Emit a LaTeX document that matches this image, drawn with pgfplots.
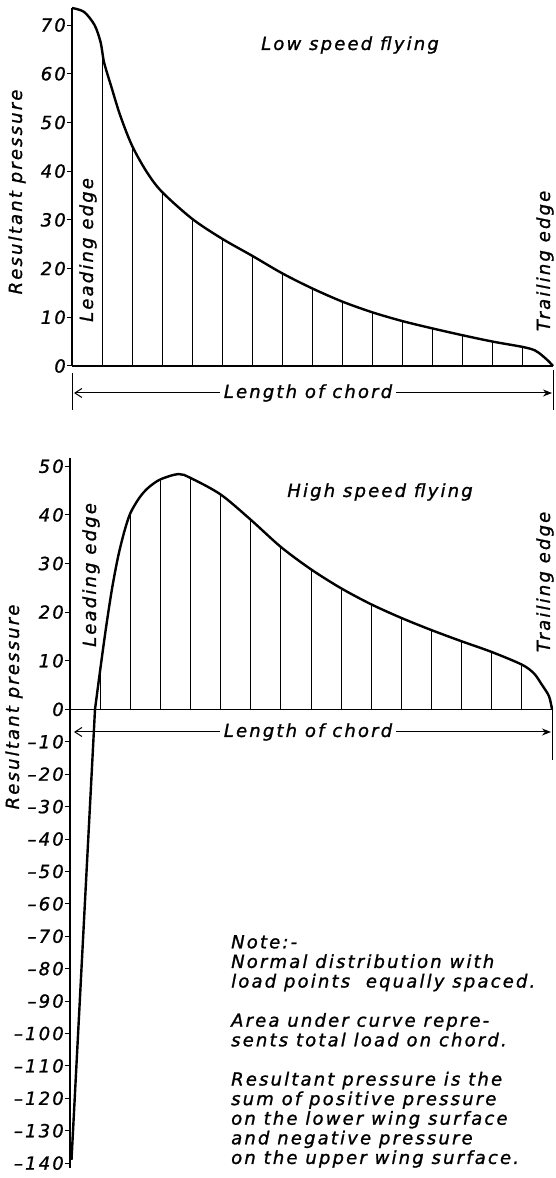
\documentclass[border=0pt]{standalone}
\usepackage{fontspec}
\setmainfont{DejaVu Sans}[LetterSpace=12, FakeBold=1.2]
\usepackage{pgfplots}
\pgfplotsset{compat=1.18}
\usetikzlibrary{arrows.meta}
\newcommand\lf{\fontsize{18}{19.6}\selectfont\itshape}
\begin{document}
\begin{tikzpicture}[x=1pt,y=1pt]
\path[use as bounding box] (0,0) rectangle (556,1178);

% ---------------- Low speed flying ----------------
\begin{axis}[
  at={(72pt,812pt)}, anchor=south west,
  scale only axis, width=481pt, height=358pt,
  xmin=0, xmax=16, ymin=0, ymax=73.5,
  axis y line=left, axis x line=none,
  axis line style={-, line width=1.3pt},
  ytick={0,10,20,30,40,50,60,70},
  yticklabels={0,10,20,30,40,50,60,70},
  yticklabel style={font=\lf, inner sep=1pt},
  tick align=outside, major tick length=5pt,
  tick style={line width=1pt, black},
  clip=false,
]
\addplot[black, line width=1.4pt] coordinates {(0,0) (16,0)};
\addplot[ycomb, black, line width=1pt] coordinates {
 (1,63.5) (2,45.2) (3,35.7) (4,30.2) (5,26.1) (6,22.6) (7,19.0) (8,15.9)
 (9,13.2) (10,11.0) (11,9.2) (12,7.7) (13,6.3) (14,5.0) (15,3.9)};
\addplot[smooth, black, line width=2.4pt] coordinates {
 (0,73.5) (0.4,72.7) (0.75,70) (0.95,66.5) (1.05,62.8) (1.15,60.5) (1.3,57.5)
 (1.6,51.5) (2,45.2) (2.5,39.7) (3,35.7) (4,30.2) (5,26.1) (6,22.6) (7,19.0)
 (8,15.9) (9,13.2) (10,11.0) (11,9.2) (12,7.7) (13,6.3) (14,5.0) (15,3.9)
 (15.4,3.2) (15.65,2.1) (15.85,1.0) (16,0)};
\end{axis}

% ---------------- High speed flying ----------------
\begin{axis}[
  at={(70pt,10pt)}, anchor=south west,
  scale only axis, width=482pt, height=709.5pt,
  xmin=0, xmax=16, ymin=-141.5, ymax=51.6,
  y coord trafo/.code={\pgfmathparse{max(#1,0)+0.666667*min(#1,0)}},
  y coord inv trafo/.code={\pgfmathparse{max(#1,0)+1.5*min(#1,0)}},
  axis y line=left, axis x line=none,
  axis line style={-, line width=1.3pt},
  ytick={-140,-130,-120,-110,-100,-90,-80,-70,-60,-50,-40,-30,-20,-10,0,10,20,30,40,50},
  yticklabels={–140,–130,–120,–110,–100,–90,–80,–70,–60,–50,–40,–30,–20,–10,0,10,20,30,40,50},
  yticklabel style={font=\lf, inner sep=1pt},
  tick align=outside, major tick length=5pt,
  tick style={line width=1pt, black},
  clip=false,
]
\addplot[black, line width=1.4pt] coordinates {(0,0) (16,0)};
\addplot[ycomb, black, line width=1pt] coordinates {
 (1,8) (2,40.3) (3,47.3) (4,47.6) (5,44.2) (6,39) (7,33.4) (8,28.8)
 (9,24.9) (10,21.6) (11,18.8) (12,16.3) (13,14.0) (14,11.8) (15,9.2)};
\addplot[black, line width=2.4pt] coordinates {(0.05,-139) (0.83,0)};
\addplot[smooth, black, line width=2.4pt] coordinates {
 (0.83,0) (1.0,8) (1.2,17) (1.4,25) (1.6,31.5) (1.8,36.5) (2,40.3) (2.3,43.5)
 (2.6,45.6) (3,47.3) (3.6,48.4) (4,47.6) (5,44.2) (6,39) (7,33.4) (8,28.8)
 (9,24.9) (10,21.6) (11,18.8) (12,16.3) (13,14.0) (14,11.8) (15,9.2)
 (15.4,7.4) (15.65,5.2) (15.9,2.7) (16,0)};
\end{axis}

% ---------------- annotations ----------------
\tikzset{lab/.style={font=\lf, inner sep=0pt}}
\node[lab] at (350,1133) {Low speed flying};
\node[lab, rotate=90] at (17,986) {Resultant pressure};
\node[lab, rotate=90] at (88,928) {Leading edge};
\node[lab, rotate=90] at (545,917) {Trailing edge};
\draw[line width=1pt] (72,805) -- (72,768);
\draw[line width=1pt] (553,808) -- (553,768);
\draw[line width=1pt, {Straight Barb[length=7pt,width=9pt]}-{Stealth[length=9pt,width=7pt]}] (74,785) -- (552,785);
\node[lab, fill=white, inner xsep=4pt, inner ysep=2pt] at (308,785) {Length of chord};

\node[lab] at (380,686) {High speed flying};
\node[lab, rotate=90] at (14,471) {Resultant pressure};
\node[lab, rotate=90] at (91,603) {Leading edge};
\node[lab, rotate=90] at (545,596) {Trailing edge};
\draw[line width=1pt] (552,472) -- (552,418);
\draw[line width=1pt, {Straight Barb[length=7pt,width=9pt]}-{Stealth[length=9pt,width=7pt]}] (74,446) -- (551,446);
\node[lab, fill=white, inner xsep=4pt, inner ysep=2pt] at (308,446) {Length of chord};

\node[lab, anchor=north west, align=left] at (231,243) {Note:-\\
Normal distribution with\\
load points \ equally spaced.\\[19.6pt]
Area under curve repre-\\
sents total load on chord.\\[19.6pt]
Resultant pressure is the\\
sum of positive pressure\\
on the lower wing surface\\
and negative pressure\\
on the upper wing surface.};
\end{tikzpicture}
\end{document}
